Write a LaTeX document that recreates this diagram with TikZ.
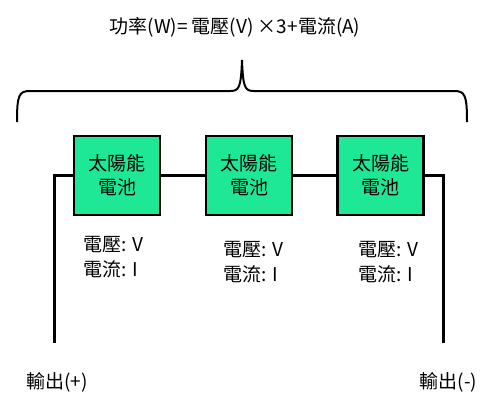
\documentclass[tikz,border=0pt]{standalone}
\usepackage{fontspec}
\setmainfont{Noto Sans CJK TC}
\definecolor{cellgreen}{RGB}{30,232,150}
\begin{document}
\begin{tikzpicture}[x=1pt,y=-1pt,
  cell/.style={draw=black,line width=2.5pt,fill=cellgreen,minimum width=86pt,minimum height=79pt,inner sep=0pt,align=center,font=\fontsize{19}{24}\selectfont},
  lbl/.style={anchor=west,align=left,inner sep=0pt,font=\fontsize{19}{25}\selectfont},
  txt/.style={inner sep=0pt,font=\fontsize{19}{24}\selectfont},
  wire/.style={line width=3pt},
  bracel/.style={line width=2pt}]
\useasboundingbox (0,0) rectangle (495,410);
\node[txt] (title) at (235,27) {功率(W)= 電壓(V) ×3+電流(A)};
\draw[bracel] (17,122) .. controls (17,95) and (19,91) .. (30,91) -- (230,91) .. controls (239,91) and (241,88) .. (242,60)
  .. controls (243,88) and (245,91) .. (254,91) -- (454,91) .. controls (465,91) and (467,95) .. (467,122);
\node[cell] (c1) at (117,175.5) {太陽能\\電池};
\node[cell] (c2) at (249,175.5) {太陽能\\電池};
\node[cell] (c3) at (380.5,175.5) {太陽能\\電池};
\coordinate (lt) at (54,175.5);
\coordinate (lb) at (54,343);
\coordinate (rt) at (443,175.5);
\coordinate (rb) at (443,343);
\draw[wire] (lb) -- (lt) -- (c1.west);
\draw[wire] (c1.east) -- (c2.west);
\draw[wire] (c2.east) -- (c3.west);
\draw[wire] (c3.east) -- (rt) -- (rb);
\node[lbl] (l1) at (83,257) {電壓: V\\電流: I};
\node[lbl] (l2) at (223,262) {電壓: V\\電流: I};
\node[lbl] (l3) at (358,262) {電壓: V\\電流: I};
\node[txt] (outp) at (57,382) {輸出(+)};
\node[txt] (outm) at (448.5,382) {輸出(-)};
\end{tikzpicture}
\end{document}
